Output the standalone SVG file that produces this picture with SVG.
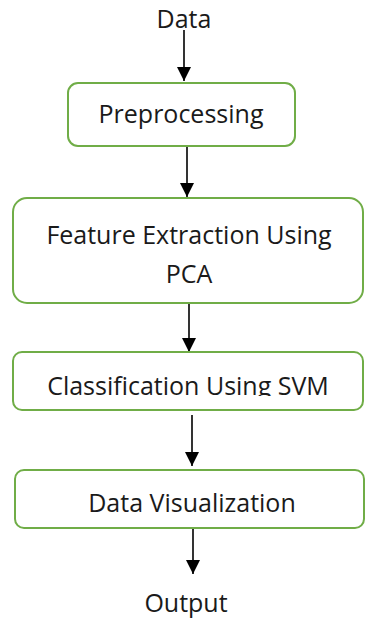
<svg xmlns="http://www.w3.org/2000/svg" width="365" height="620" viewBox="0 0 365 620">
<style>
.box{fill:#ffffff;stroke:#70ad47;stroke-width:2}
.lbl{font-family:"Open Sans","Noto Sans",sans-serif;font-size:25px;fill:#1a1a1a;text-anchor:middle}
.edge{stroke:#000000;stroke-width:1.6;fill:none;marker-end:url(#ah)}
</style>
<defs>
<marker id="ah" viewBox="0 0 10 10" refX="10" refY="5" markerWidth="14" markerHeight="15" markerUnits="userSpaceOnUse" orient="auto">
<path d="M0,0 L10,5 L0,10 Z" fill="#000000"/>
</marker>
<clipPath id="clip3"><rect x="13" y="352" width="351" height="44"/></clipPath>
</defs>
<rect width="365" height="620" fill="#ffffff"/>
<g id="connectors">
<line class="edge" x1="184" y1="30" x2="184" y2="81"/>
<line class="edge" x1="187" y1="146" x2="187" y2="197"/>
<line class="edge" x1="189" y1="304" x2="189" y2="352"/>
<line class="edge" x1="192" y1="415" x2="192" y2="466"/>
<line class="edge" x1="193" y1="529" x2="193" y2="574"/>
</g>
<g id="data">
<text class="lbl" x="184" y="28">Data</text>
</g>
<g id="preprocessing">
<rect class="box" x="68" y="83" width="227" height="63" rx="10"/>
<text class="lbl" x="181" y="123">Preprocessing</text>
</g>
<g id="feature">
<rect class="box" x="13" y="198" width="350" height="105" rx="14"/>
<text class="lbl" x="189" y="244">Feature Extraction Using</text>
<text class="lbl" x="189" y="283">PCA</text>
</g>
<g id="classification">
<rect class="box" x="13" y="352" width="350" height="58" rx="9"/>
<text class="lbl" x="188" y="395" clip-path="url(#clip3)">Classification Using SVM</text>
</g>
<g id="visualization">
<rect class="box" x="15" y="470" width="349" height="58" rx="9"/>
<text class="lbl" x="192" y="512">Data Visualization</text>
</g>
<g id="output">
<text class="lbl" x="186" y="612">Output</text>
</g>
</svg>
